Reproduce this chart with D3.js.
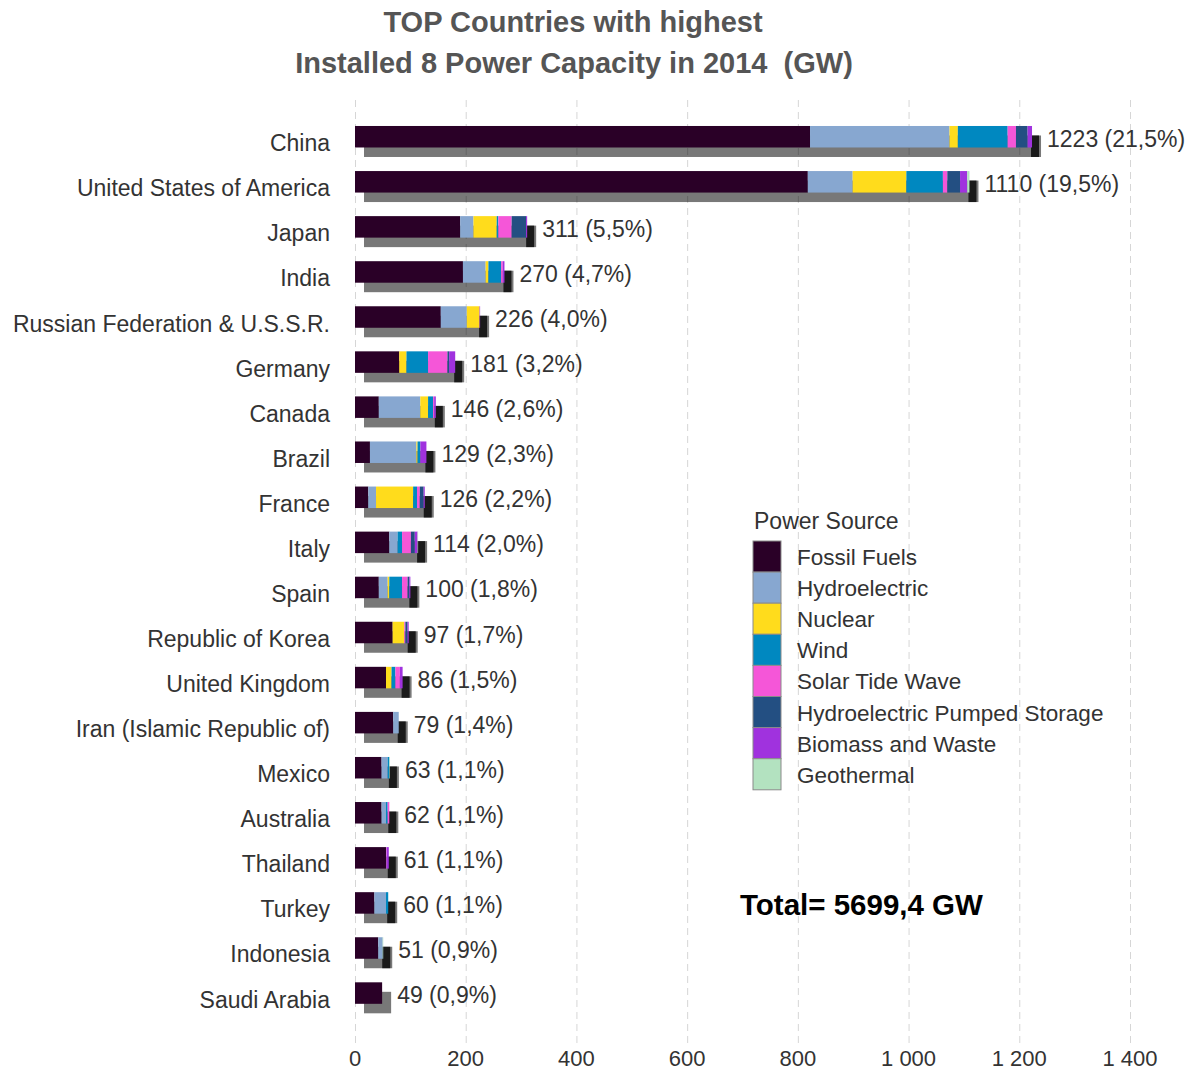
<!DOCTYPE html>
<html lang="en">
<head>
	<meta charset="utf-8" />
	<title>installed power capacity 2014</title>
	<style>
		* {margin: 0; padding: 0;}
		body {background: #fff;}
		text {font-family: "Liberation Sans", Arial, sans-serif;}
		.title {font-weight: bold; fill: #555; font-size: 29px; white-space: pre;}
		.lbl {fill: #333; font-size: 23px;}
	</style>
	<script src="https://cdn.jsdelivr.net/npm/d3@7"></script>
</head>
<body>
<div id="viz"></div>
<script>

var countries = ["China", "United States of America", "Japan", "India",
	"Russian Federation & U.S.S.R.", "Germany", "Canada", "Brazil", "France",
	"Italy", "Spain", "Republic of Korea", "United Kingdom",
	"Iran (Islamic Republic of)", "Mexico", "Australia", "Thailand", "Turkey",
	"Indonesia", "Saudi Arabia"];

var sources = ["Fossil Fuels", "Hydroelectric", "Nuclear", "Wind", "Solar Tide Wave",
	"Hydroelectric Pumped Storage", "Biomass and Waste", "Geothermal"];

// GW per country, same order as countries
var fossil     = [822, 818, 190, 195, 155, 80, 43, 27, 24, 62, 43, 68, 56, 69, 48, 48, 56, 35, 42, 49];
var hydro      = [252, 81, 24, 41, 47, 0, 75, 84, 14, 15, 16, 0, 0, 10, 11, 8, 0, 21, 8, 0];
var nuclear    = [15, 97, 42, 5, 23, 13, 14, 2, 67, 0, 3, 21, 10, 0, 0, 0, 0, 0, 0, 0];
var wind       = [90, 66, 3, 23, 0, 39, 9, 5, 7, 8, 23, 0, 7, 0, 3, 3, 0, 4, 0, 0];
var solar      = [15, 8, 24, 3, 0, 35, 2, 0, 5, 16, 10, 2, 8, 0, 0, 3, 1, 0, 0, 0];
var pumped     = [21, 23, 26, 0, 0, 3, 0, 0, 7, 7, 3, 4, 0, 0, 0, 0, 0, 0, 0, 0];
var biomass    = [8, 13, 2, 3, 1, 11, 3, 11, 2, 5, 2, 2, 5, 0, 0, 0, 4, 0, 0, 0];
var geothermal = [0, 4, 0, 0, 0, 0, 0, 0, 0, 1, 0, 0, 0, 0, 1, 0, 0, 0, 1, 0];

var xTicks = [0, 200, 400, 600, 800, 1000, 1200, 1400];
var worldTotal = 5699.4;

var colors = ["#2a0027", "#87a7d0", "#ffdc1c", "#0088c0", "#f556d8", "#234f82", "#a032de", "#b3e2c0"];

var w = 1194, h = 1072;

var series = [fossil, hydro, nuclear, wind, solar, pumped, biomass, geothermal];
var rows = countries.map(function(c, i){
	var r = {country: c};
	sources.forEach(function(s, j){ r[s] = series[j][i]; });
	r.total = d3.sum(series, function(a){ return a[i]; });
	return r;
});

var svg = d3.select("#viz").append("svg").attr("width", w).attr("height", h);

var x = d3.scaleLinear().domain([0, 1400]).range([355, 1130]);
var y = d3.scaleBand().domain(countries).range([114.2, 1015.6])
	.paddingInner(0.523).paddingOuter(0.2615);
var color = d3.scaleOrdinal().domain(sources).range(colors);

var fmtTick = function(d){ return d3.format(",")(d).replace(/,/g, " "); };
var fmtPct = function(v){ return d3.format(".1f")(v / worldTotal * 100).replace(".", ","); };

// title
svg.append("text").attr("class", "title").attr("x", 573).attr("y", 32)
	.attr("text-anchor", "middle").text("TOP Countries with highest");
svg.append("text").attr("class", "title").attr("x", 574).attr("y", 73)
	.attr("text-anchor", "middle").text("Installed 8 Power Capacity in 2014  (GW)");

// grid
svg.append("g").selectAll("line").data(xTicks).enter().append("line")
	.attr("x1", function(d){ return x(d) + 0.5; })
	.attr("x2", function(d){ return x(d) + 0.5; })
	.attr("y1", 100).attr("y2", 1044)
	.style("stroke", "#d6d6d6").style("stroke-dasharray", "7,5");

svg.append("g").selectAll("text").data(xTicks).enter().append("text")
	.attr("class", "lbl")
	.attr("x", function(d){ return x(d); })
	.attr("y", 1066)
	.attr("text-anchor", "middle")
	.style("font-size", "22px")
	.text(fmtTick);

var sx = 9, sy = 9.5, bh = y.bandwidth();

// shadow
var shadow = svg.append("g").selectAll("g").data(rows).enter().append("g");
shadow.append("rect")
	.attr("x", x(0) + sx)
	.attr("y", function(d){ return y(d.country) + sy; })
	.attr("width", function(d){ return x(d.total) - x(0); })
	.attr("height", bh)
	.style("fill", "#000").style("fill-opacity", 0.53);
shadow.filter(function(d){ return d.total > d[sources[0]]; }).append("rect")
	.attr("x", function(d){ return x(d.total) - 1; })
	.attr("y", function(d){ return y(d.country) + sy; })
	.attr("width", 8)
	.attr("height", bh)
	.style("fill", "#000").style("fill-opacity", 0.78);

// stacked bars
var stack = d3.stack().keys(sources)(rows);
svg.append("g").selectAll("g").data(stack).enter().append("g")
	.style("fill", function(d){ return color(d.key); })
	.selectAll("rect").data(function(d){ return d; }).enter().append("rect")
	.attr("x", function(d){ return x(d[0]); })
	.attr("y", function(d){ return y(d.data.country); })
	.attr("width", function(d){ return x(d[1]) - x(d[0]); })
	.attr("height", bh);

// country names
svg.append("g").selectAll("text").data(rows).enter().append("text")
	.attr("class", "lbl")
	.attr("x", 330)
	.attr("y", function(d){ return y(d.country) + bh / 2 + 14.5; })
	.attr("text-anchor", "end")
	.text(function(d){ return d.country; });

// values
svg.append("g").selectAll("text").data(rows).enter().append("text")
	.attr("class", "lbl")
	.attr("x", function(d){ return x(d.total) + 15; })
	.attr("y", function(d){ return y(d.country) + bh / 2 + 10; })
	.text(function(d){ return d.total + " (" + fmtPct(d.total) + "%)"; });

// legend
var lg = svg.append("g");
lg.append("text").attr("class", "lbl").attr("x", 754).attr("y", 529).text("Power Source");
var item = lg.selectAll("g").data(sources).enter().append("g")
	.attr("transform", function(d, i){ return "translate(753," + (541 + i * 31.1) + ")"; });
item.append("rect").attr("width", 28).attr("height", 31.1)
	.style("fill", function(d){ return color(d); })
	.style("stroke", "#8a8a8a").style("stroke-width", 1);
item.append("text").attr("class", "lbl").attr("x", 44).attr("y", 24)
	.style("font-size", "22.5px")
	.text(function(d){ return d; });

svg.append("text").attr("x", 740).attr("y", 915)
	.style("font-weight", "bold").style("font-size", "29.5px").style("fill", "#000")
	.text("Total= " + String(worldTotal).replace(".", ",") + " GW");

</script>
</body>
</html>
